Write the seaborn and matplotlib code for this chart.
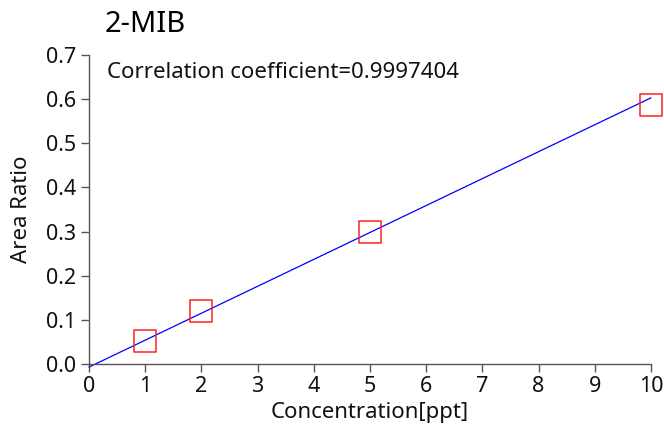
import matplotlib
matplotlib.use("Agg")
import matplotlib.pyplot as plt
import seaborn as sns
import pandas as pd

# Data
concentration = [1, 2, 5, 10]
area_ratio = [0.052, 0.120, 0.300, 0.587]
fit_x = [0, 10]
fit_y = [-0.007, 0.603]
x_ticks = [0, 1, 2, 3, 4, 5, 6, 7, 8, 9, 10]
y_ticks = [0.0, 0.1, 0.2, 0.3, 0.4, 0.5, 0.6, 0.7]
title = "2-MIB"
annotation = "Correlation coefficient=0.9997404"

sns.set_theme(style="ticks")
plt.rcParams['font.family'] = ['Noto Sans', 'DejaVu Sans']

fig = plt.figure(figsize=(6.64, 4.30), dpi=100)
ax = fig.add_axes([89/664, 1 - 364/430, (651 - 89)/664, (364 - 55)/430])

pts = pd.DataFrame({"x": concentration, "y": area_ratio})
fit = pd.DataFrame({"x": fit_x, "y": fit_y})

sns.lineplot(data=fit, x="x", y="y", ax=ax, color="#0000ff", linewidth=0.9, clip_on=False)
sns.scatterplot(data=pts, x="x", y="y", ax=ax, marker="s", s=250,
                facecolor="none", edgecolor="#ff2020", linewidth=1.1, clip_on=False, zorder=3)

ax.set_xlim(0, 10)
ax.set_ylim(0, 0.7)
ax.set_xticks(x_ticks)
ax.set_yticks(y_ticks)
ax.set_xticklabels([str(t) for t in x_ticks])
ax.set_yticklabels([f"{t:.1f}" for t in y_ticks])

for s in ["top", "right"]:
    ax.spines[s].set_visible(False)
for s in ["left", "bottom"]:
    ax.spines[s].set_color("#555555")
    ax.spines[s].set_linewidth(1.0)
ax.tick_params(axis="both", direction="out", length=6, width=1.0, color="#555555",
               labelsize=15.5, labelcolor="#111111", pad=3)

ax.set_xlabel("Concentration[ppt]", fontsize=16, color="#111111", labelpad=3)
ax.set_ylabel("Area Ratio", fontsize=16, color="#111111", labelpad=10)

fig.text(105/664, 1 - 25/430, title, fontsize=21, color="#000000", va="center", ha="left")
ax.text(107/664, 1 - 72/430, annotation, transform=fig.transFigure,
        fontsize=16, color="#111111", va="center", ha="left")

fig.savefig("out.png", dpi=100)
